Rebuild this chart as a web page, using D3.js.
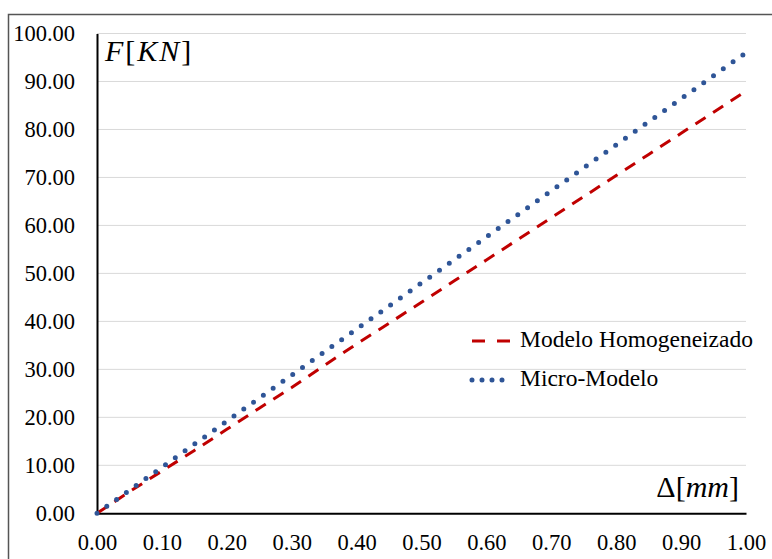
<!DOCTYPE html>
<html><head><meta charset="utf-8">
<script src="https://cdn.jsdelivr.net/npm/d3@7"></script>
<style>body{margin:0;background:#fff}svg{display:block}</style>
</head><body>
<svg id="c" width="772" height="559"></svg>
<script>
const displacement = [0.00,0.05,0.10,0.15,0.20,0.25,0.30,0.35,0.40,0.45,0.50,0.55,0.60,0.65,0.70,0.75,0.80,0.85,0.90,0.95,1.00];
const homogeneizado = [0.00,4.5,8.8,13.1,17.5,21.9,26.2,30.8,35.3,39.6,44.0,48.4,52.8,57.2,61.6,66.0,70.4,74.8,79.2,83.6,88.0];
const microModelo = [0.00,4.8,9.6,14.4,19.2,24.0,28.8,33.6,38.4,43.2,48.0,52.8,57.6,62.4,67.2,72.0,76.8,81.6,86.4,91.2,96.0];
const xTicks = [0,0.1,0.2,0.3,0.4,0.5,0.6,0.7,0.8,0.9,1.0];
const yTicks = [0,10,20,30,40,50,60,70,80,90,100];
const seriesNames = ["Modelo Homogeneizado","Micro-Modelo"];

const svg = d3.select("#c");
const font = "Liberation Serif";
const x = d3.scaleLinear().domain([0,1]).range([97,746]);
const y = d3.scaleLinear().domain([0,100]).range([513.3,33.5]);

// frame
svg.append("rect").attr("x",8.5).attr("y",14.5).attr("width",900).attr("height",700)
  .attr("fill","none").attr("stroke","#555").attr("stroke-width",1.5);

// grid
svg.append("g").selectAll("line").data(yTicks.filter(d=>d>0)).join("line")
  .attr("x1",x(0)).attr("x2",x(1)).attr("y1",d=>y(d)).attr("y2",d=>y(d))
  .attr("stroke","#d9d9d9").attr("stroke-width",1);

// y axis
const ya = svg.append("g").attr("transform",`translate(${x(0)},0)`)
  .call(d3.axisLeft(y).tickValues(yTicks).tickFormat(d3.format(".2f")).tickSize(0).tickPadding(22));
ya.select(".domain").attr("stroke","#000").attr("stroke-width",2);
ya.selectAll("text").style("font-family",font).style("font-size","22.5px").attr("fill","#000").attr("dy","0.33em");

// x axis
const xa = svg.append("g").attr("transform",`translate(0,${y(0)})`)
  .call(d3.axisBottom(x).tickValues(xTicks).tickFormat(d3.format(".2f")).tickSize(0).tickPadding(21));
xa.select(".domain").attr("stroke","#000").attr("stroke-width",2);
xa.selectAll("text").style("font-family",font).style("font-size","22.5px").attr("fill","#000");

const line = d3.line().x((d,i)=>x(displacement[i])).y(d=>y(d));

svg.append("path").datum(homogeneizado).attr("d",line).attr("fill","none")
  .attr("stroke","#C00000").attr("stroke-width",3).attr("stroke-dasharray","12 9").attr("stroke-linecap","butt");
svg.append("path").datum(microModelo).attr("d",line).attr("fill","none")
  .attr("stroke","#2F5597").attr("stroke-width",5).attr("stroke-dasharray","0 12").attr("stroke-linecap","round");

// axis titles
const t1 = svg.append("text").attr("x",105).attr("y",61).style("font-family",font).style("font-size","30px").style("letter-spacing","2px").attr("fill","#000");
t1.append("tspan").style("font-style","italic").text("F");
t1.append("tspan").text("[");
t1.append("tspan").style("font-style","italic").text("KN");
t1.append("tspan").text("]");

const t2 = svg.append("text").attr("x",739).attr("y",497).attr("text-anchor","end").style("font-family",font).style("font-size","30px").attr("fill","#000");
t2.append("tspan").text("Δ[");
t2.append("tspan").style("font-style","italic").text("mm");
t2.append("tspan").text("]");

// legend
const lg = svg.append("g");
lg.append("line").attr("x1",472).attr("x2",510).attr("y1",341).attr("y2",341)
  .attr("stroke","#C00000").attr("stroke-width",3).attr("stroke-dasharray","13 12");
lg.append("line").attr("x1",472).attr("x2",512).attr("y1",380).attr("y2",380)
  .attr("stroke","#2F5597").attr("stroke-width",5).attr("stroke-dasharray","0 10").attr("stroke-linecap","round");
lg.append("text").attr("x",520).attr("y",347).style("font-family",font).style("font-size","23.5px").attr("fill","#000").text(seriesNames[0]);
lg.append("text").attr("x",520).attr("y",386).style("font-family",font).style("font-size","23.5px").attr("fill","#000").text(seriesNames[1]);
</script>
</body></html>
